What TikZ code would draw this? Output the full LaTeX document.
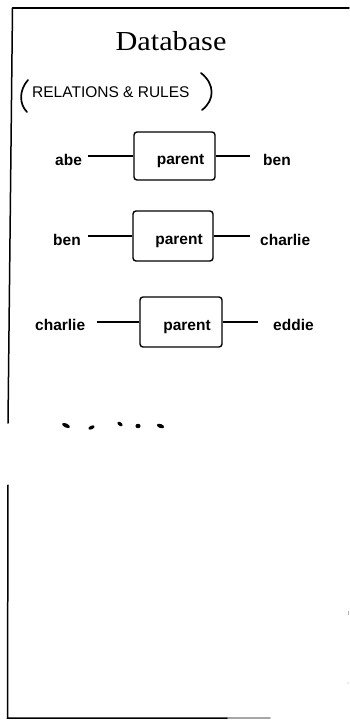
\documentclass[tikz,border=0pt]{standalone}
\usepackage{fontspec}
\usepackage{graphicx}
\newfontfamily\lblfont{Liberation Sans}
\newfontfamily\handfont{Liberation Sans}
\newfontfamily\titlefont{Liberation Serif}
\begin{document}
\begin{tikzpicture}[x=1pt,y=-1pt,
  frame/.style={line width=1.5pt, line cap=round},
  rel/.style={draw, line width=1.4pt, rounded corners=3pt, minimum width=81pt,
    minimum height=48pt, inner sep=0pt,
    font=\lblfont\bfseries\fontsize{15.5}{18}\selectfont,
    text height=20pt, text depth=3pt},
  lbl/.style={inner sep=0pt, anchor=base west,
    font=\lblfont\bfseries\fontsize{15.5}{18}\selectfont},
  wire/.style={line width=1.5pt},
  paren/.style={line width=1.7pt, line cap=round},
  dotmark/.style={fill=black}]
\useasboundingbox (0,0) rectangle (349,721);

% frame
\draw[frame] (12.5,8) -- (349,8);
\draw[frame] (12.5,8) -- (8,423);
\draw[frame] (8,485) -- (7.5,718) -- (228,718);
\draw[frame, gray!70] (228,718) -- (270,718);
\draw[gray!60, line width=0.8pt] (348,611) -- (348,615);
\fill[gray!60] (348,683) circle (0.7);

% title
\node[anchor=base, inner sep=0pt, font=\titlefont\fontsize{27.5}{30}\selectfont] (title) at (171,50) {\scalebox{1.1}[1]{Database}};

% handwritten subtitle
\node[anchor=base west, inner sep=0pt, font=\handfont\fontsize{15.5}{18}\selectfont] (sub) at (32,97) {RELATIONS \& RULES};
\draw[paren] (28,80) .. controls (19,90) and (19,104) .. (27,112);
\draw[paren] (201,73) .. controls (215,84) and (215,100) .. (202,110);

% row 1
\node[lbl] (abe) at (55,165) {abe};
\node[rel] (p1) at (174.5,156) {\hspace*{12pt}parent};
\node[lbl] (ben1) at (263,165) {ben};
\draw[wire, shorten <=6.3pt] (abe.east |- p1.west) -- (p1.west);
\draw[wire, shorten >=13pt] (p1.east) -- (p1.east -| ben1.west);

% row 2
\node[lbl] (ben2) at (53,245) {ben};
\node[rel, minimum width=80pt, minimum height=50pt] (p2) at (173,236) {\hspace*{12pt}parent};
\node[lbl] (charlie1) at (260,245) {charlie};
\draw[wire, shorten <=7.4pt] (ben2.east |- p2.west) -- (p2.west);
\draw[wire, shorten >=10pt] (p2.east) -- (p2.east -| charlie1.west);

% row 3
\node[lbl] (charlie2) at (35,330) {charlie};
\node[rel, minimum width=82pt, minimum height=50pt] (p3) at (181,322) {\hspace*{12pt}parent};
\node[lbl] (eddie) at (273,330) {eddie};
\draw[wire, shorten <=12pt] (charlie2.east |- p3.west) -- (p3.west);
\draw[wire, shorten >=15pt] (p3.east) -- (p3.east -| eddie.west);

% dots
\fill[dotmark, rotate around={-25:(66,425.5)}] (66,425.5) ellipse (4.2 and 2);
\fill[dotmark, rotate around={25:(91.5,427.5)}] (91.5,427.5) ellipse (3.3 and 1.8);
\fill[dotmark, rotate around={-35:(120,424)}] (120,424) ellipse (3 and 1.8);
\fill[dotmark] (138,426) ellipse (2.6 and 2.2);
\fill[dotmark, rotate around={-20:(160.5,426)}] (160.5,426) ellipse (3.8 and 2);
\end{tikzpicture}
\end{document}
